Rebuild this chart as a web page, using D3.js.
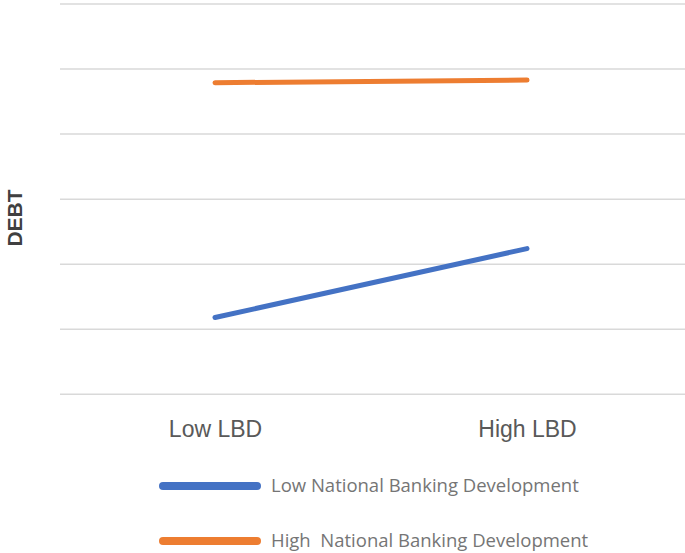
<!DOCTYPE html>
<html><head><meta charset="utf-8">
<script src="https://cdn.jsdelivr.net/npm/d3@7/dist/d3.min.js"></script>
<style>html,body{margin:0;padding:0;background:#fff;}</style>
</head><body>
<script>
const categories = ["Low LBD", "High LBD"];
const seriesNames = ["Low National Banking Development", "High  National Banking Development"];
const lowNBD = [1.18, 2.24];
const highNBD = [4.79, 4.83];
const yTicks = [0, 1, 2, 3, 4, 5, 6];
const colors = ["#4472C4", "#ED7D31"];

const W = 685, H = 553;
const svg = d3.select("body").append("svg").attr("width", W).attr("height", H);

const x = d3.scalePoint().domain(categories).range([215, 527]);
const y = d3.scaleLinear().domain([0, 6]).range([394.3, 4]);

// gridlines
svg.append("g").selectAll("line").data(yTicks).join("line")
  .attr("x1", 60).attr("x2", 685)
  .attr("y1", d => y(d)).attr("y2", d => y(d))
  .attr("stroke", "#d9d9d9").attr("stroke-width", 1.5);

// x axis labels
const xAxis = d3.axisBottom(x).tickSize(0).tickPadding(0);
const gx = svg.append("g").attr("transform", "translate(0,421)").call(xAxis);
gx.select(".domain").remove();
gx.selectAll("text").attr("font-family", "Liberation Sans, Arial, sans-serif")
  .attr("font-size", 23).attr("fill", "#595959").attr("dy", "0.71em");

// y title
svg.append("text").attr("transform", "translate(22,218) rotate(-90)")
  .attr("text-anchor", "middle").attr("font-family", "Liberation Sans, Arial, sans-serif")
  .attr("font-weight", "bold").attr("font-size", 21).attr("fill", "#404040").text("DEBT");

const line = d3.line().x((d, i) => x(categories[i])).y(d => y(d));
[lowNBD, highNBD].forEach((s, i) => {
  svg.append("path").datum(s).attr("d", line).attr("fill", "none")
    .attr("stroke", colors[i]).attr("stroke-width", 5).attr("stroke-linecap", "round");
});

// legend
const legY = [486, 541];
seriesNames.forEach((n, i) => {
  svg.append("line").attr("x1", 163).attr("x2", 257).attr("y1", legY[i]).attr("y2", legY[i])
    .attr("stroke", colors[i]).attr("stroke-width", 8).attr("stroke-linecap", "round");
  svg.append("text").attr("x", 271).attr("y", legY[i]).attr("dy", "0.35em")
    .attr("font-family", "Open Sans, sans-serif").attr("font-size", 18.5)
    .attr("fill", "#757575").style("white-space", "pre").text(n);
});
</script>
</body></html>
